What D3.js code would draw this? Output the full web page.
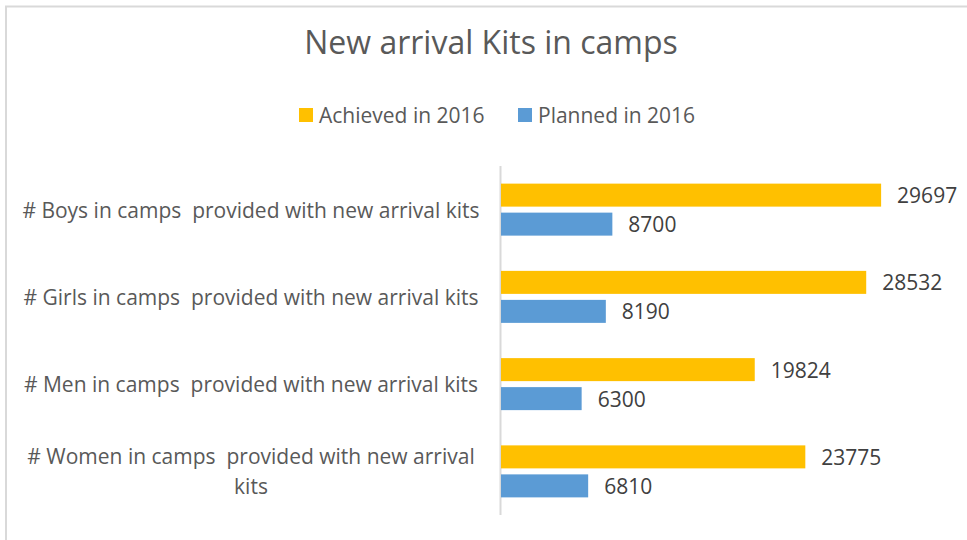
<!DOCTYPE html>
<html>
<head>
<meta charset="utf-8">
<script src="https://cdn.jsdelivr.net/npm/d3@7"></script>
<style>
  body { margin: 0; background: #fff; }
  svg { font-family: "Open Sans", sans-serif; }
</style>
</head>
<body>
<svg width="967" height="540"></svg>
<script>
var categories = [
    "# Boys in camps  provided with new arrival kits",
    "# Girls in camps  provided with new arrival kits",
    "# Men in camps  provided with new arrival kits",
    "# Women in camps  provided with new arrival kits"
];
var achieved = [29697, 28532, 19824, 23775];
var planned = [8700, 8190, 6300, 6810];
var seriesNames = ["Achieved in 2016", "Planned in 2016"];
var seriesColors = ["#ffc000", "#5b9bd5"];

var svg = d3.select("svg");

// chart frame (only top/left edges show in the picture)
svg.append("path")
    .attr("d", "M6,540 V6.5 H967")
    .attr("fill", "none")
    .attr("stroke", "#d9d9d9")
    .attr("stroke-width", 2);

svg.append("text")
    .attr("x", 491)
    .attr("y", 54)
    .attr("text-anchor", "middle")
    .attr("fill", "#595959")
    .style("font-size", "32px")
    .text("New arrival Kits in camps");

// legend
var legendX = [299, 518];
var legend = svg.selectAll("g.legend")
    .data(seriesNames)
    .enter().append("g")
    .attr("class", "legend")
    .attr("transform", function (d, i) { return "translate(" + legendX[i] + ",108)"; });
legend.append("rect")
    .attr("width", 14)
    .attr("height", 14)
    .attr("fill", function (d, i) { return seriesColors[i]; });
legend.append("text")
    .attr("x", 20)
    .attr("y", 14.5)
    .attr("fill", "#595959")
    .style("font-size", "21px")
    .text(function (d) { return d; });

var x = d3.scaleLinear().domain([0, 35000]).range([501, 949]);
var y = d3.scaleBand().domain(categories).range([166, 515]);

var rows = categories.map(function (c, i) {
    return { cat: c, vals: [achieved[i], planned[i]] };
});

var barH = 23, barGap = 6;

svg.append("line")
    .attr("x1", 500.5).attr("x2", 500.5)
    .attr("y1", 166).attr("y2", 515)
    .attr("stroke", "#d9d9d9")
    .attr("stroke-width", 2);

var group = svg.selectAll("g.row")
    .data(rows)
    .enter().append("g")
    .attr("class", "row")
    .attr("transform", function (d) {
        return "translate(0," + (y(d.cat) + y.bandwidth() / 2) + ")";
    });

group.selectAll("rect")
    .data(function (d) { return d.vals; })
    .enter().append("rect")
    .attr("x", x(0))
    .attr("y", function (d, i) { return i == 0 ? -barH - barGap / 2 : barGap / 2; })
    .attr("width", function (d) { return x(d) - x(0); })
    .attr("height", barH)
    .attr("fill", function (d, i) { return seriesColors[i]; });

group.selectAll("text.val")
    .data(function (d) { return d.vals; })
    .enter().append("text")
    .attr("class", "val")
    .attr("x", function (d) { return x(d) + 16; })
    .attr("y", function (d, i) { return (i == 0 ? -barH / 2 - barGap / 2 : barH / 2 + barGap / 2) + 8; })
    .attr("fill", "#404040")
    .style("font-size", "21px")
    .text(function (d) { return d; });

// category labels, wrapped when too wide
group.append("text")
    .attr("class", "cat")
    .attr("text-anchor", "middle")
    .attr("fill", "#595959")
    .style("font-size", "21px")
    .each(function (d) {
        var t = d3.select(this);
        var lines = [d.cat];
        if (d.cat.indexOf("Women") >= 0) {
            lines = ["# Women in camps  provided with new arrival", "kits"];
        }
        lines.forEach(function (l, k) {
            t.append("tspan")
                .attr("x", 251)
                .attr("y", 8 + (k - (lines.length - 1) / 2) * 30)
                .attr("xml:space", "preserve")
                .style("white-space", "pre")
                .text(l);
        });
    });
</script>
</body>
</html>
